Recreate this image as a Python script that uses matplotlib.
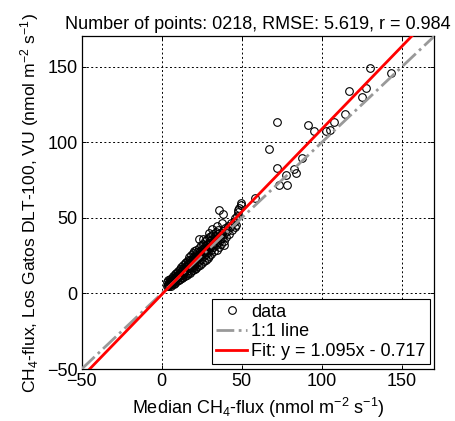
import matplotlib
matplotlib.use("Agg")
import matplotlib.pyplot as plt
import numpy as np

plt.rcParams['font.family'] = ['Liberation Sans', 'DejaVu Sans']
plt.rcParams['mathtext.default'] = 'regular'
plt.rcParams['font.size'] = 13

# main cluster of points (median flux, DLT-100 flux)
x_cluster = [3.1, 3.5, 4.0, 4.2, 4.6, 5.0, 5.3, 5.5, 5.8, 6.0,
             6.2, 6.5, 6.8, 7.0, 7.2, 7.5, 7.8, 8.0, 8.2, 8.5,
             8.8, 9.0, 9.2, 9.5, 9.8, 10.0, 10.2, 10.5, 10.8, 11.0,
             11.2, 11.5, 11.8, 12.0, 12.2, 12.5, 12.8, 13.0, 13.2, 13.5,
             13.8, 14.0, 14.2, 14.5, 14.8, 15.0, 15.2, 15.5, 15.8, 16.0,
             16.2, 16.5, 16.8, 17.0, 17.2, 17.5, 17.8, 18.0, 18.2, 18.5,
             18.8, 19.0, 19.2, 19.5, 19.8, 20.0, 20.2, 20.5, 20.8, 21.0,
             21.2, 21.5, 21.8, 22.0, 22.3, 22.6, 22.9, 23.2, 23.5, 23.8,
             24.1, 24.4, 24.7, 25.0, 25.3, 25.6, 25.9, 26.2, 26.5, 26.8,
             27.1, 27.4, 27.7, 28.0, 28.3, 28.6, 28.9, 29.2, 29.5, 29.8,
             30.1, 30.4, 30.7, 31.0, 31.4, 31.8, 32.2, 32.6, 33.0, 33.4,
             33.8, 34.2, 34.6, 35.0, 35.4, 35.8, 36.2, 36.6, 37.0, 37.4,
             37.8, 38.2, 38.6, 39.0, 39.5, 40.0, 40.6, 41.2, 41.8, 42.5,
             43.2, 44.0, 44.8, 45.6, 46.3, 47.0, 47.8, 48.5, 49.2,
             3.8, 4.4, 5.1, 5.9, 6.6, 7.3, 8.1, 8.9, 9.6, 10.4,
             11.1, 11.9, 12.6, 13.4, 14.1, 14.9, 15.6, 16.4, 17.1, 17.9,
             18.6, 19.4, 20.1, 20.9, 21.6, 22.4, 23.1, 23.9, 24.6, 25.4,
             26.1, 26.9, 27.6, 28.4, 29.1, 29.9, 30.6, 31.3, 32.1, 33.0,
             34.0, 35.0, 36.0, 12.8, 19.9, 23.5, 26.0, 29.4, 31.6, 34.7]
y_cluster = [5.2, 7.8, 6.1, 8.9, 5.0, 7.2, 9.5, 4.9, 6.8, 8.1,
             10.3, 5.9, 7.7, 9.0, 11.5, 6.4, 8.5, 10.2, 12.6, 7.1,
             9.4, 11.3, 13.8, 7.9, 10.1, 12.0, 14.9, 8.6, 11.2, 13.1,
             16.0, 9.4, 12.3, 14.2, 17.3, 10.1, 13.0, 15.4, 18.6, 10.8,
             14.1, 16.5, 19.8, 11.6, 15.2, 17.6, 21.1, 12.4, 16.3, 18.5,
             22.3, 13.2, 17.0, 19.6, 23.8, 13.8, 18.2, 20.7, 25.4, 14.6,
             19.1, 21.8, 26.9, 15.3, 20.3, 22.9, 28.1, 16.2, 21.4, 24.1,
             29.0, 17.0, 22.5, 25.3, 27.2, 18.1, 23.6, 26.4, 30.3, 19.0,
             24.8, 27.5, 31.7, 20.3, 26.0, 28.6, 33.0, 21.5, 27.1, 29.8,
             34.4, 22.4, 28.3, 31.0, 35.8, 23.6, 29.5, 32.2, 37.1, 25.0,
             30.7, 33.5, 38.0, 26.3, 31.9, 34.8, 39.4, 27.8, 33.1, 36.2,
             40.9, 29.0, 34.5, 37.4, 42.0, 30.6, 35.9, 38.8, 32.8, 40.2,
             36.6, 41.5, 34.7, 39.3, 43.2, 37.0, 41.0, 44.6, 39.2, 43.8,
             46.5, 41.7, 47.3, 49.8, 45.0, 51.5, 53.6, 56.2, 58.5,
             4.8, 7.3, 6.0, 9.2, 8.8, 7.0, 9.0, 10.8, 12.4, 10.9,
             12.7, 14.8, 12.0, 16.9, 13.9, 18.3, 15.0, 20.2, 16.8, 22.4,
             17.6, 23.9, 19.0, 25.6, 20.4, 24.6, 21.7, 28.2, 23.0, 29.7,
             24.5, 31.5, 26.0, 33.0, 27.4, 34.6, 28.9, 36.2, 30.4, 38.3,
             31.8, 39.6, 33.7, 10.6, 17.4, 35.9, 36.2, 40.0, 42.3, 44.7]

# scattered high-flux points
x_high = [130.2, 143.3, 116.6, 127.5, 125.0, 114.6, 107.7, 102.3, 104.8, 95.2,
          91.0, 72.1, 67.1, 87.5, 72.1, 82.3, 77.5, 84.0, 73.3, 78.1,
          58.3, 49.6, 47.5, 36.0, 38.1, 37.7, 46.0, 38.9]
y_high = [148.9, 146.0, 133.7, 135.9, 129.7, 118.7, 113.2, 107.5, 107.9, 107.5,
          111.4, 113.7, 95.6, 89.4, 82.8, 82.0, 78.0, 79.7, 71.8, 71.8,
          63.0, 59.9, 55.0, 55.0, 52.6, 46.3, 44.0, 31.9]

fit_slope = 1.095
fit_intercept = -0.717
n_points = 218
rmse = 5.619
r_value = 0.984

x_all = np.array(x_cluster + x_high)
y_all = np.array(y_cluster + y_high)

fig = plt.figure(figsize=(4.55, 4.21), dpi=100)
ax = fig.add_axes([0.1795, 0.1235, 0.7745, 0.79])

line_x = np.array([-50, 170])
ax.plot(x_all, y_all, 'o', mfc='none', mec='black', ms=5.5, mew=0.8, label='data', zorder=3)
ax.plot(line_x, line_x, '-.', color='#999999', lw=2, label='1:1 line', zorder=4)
ax.plot(line_x, fit_slope * line_x + fit_intercept, '-', color='red', lw=2,
        label='Fit: y = %.3fx - %.3f' % (fit_slope, -fit_intercept), zorder=5)

ax.set_xlim(-50, 170)
ax.set_ylim(-50, 170)
ax.set_xticks([-50, 0, 50, 100, 150])
ax.set_yticks([-50, 0, 50, 100, 150])
ax.grid(True, color='black', linestyle=(0, (2, 2.5)), lw=0.7)
ax.tick_params(direction='in', top=True, right=True, length=3, width=0.7, pad=3)
for s in ax.spines.values():
    s.set_linewidth(0.9)

ax.set_xlabel('Median CH$_4$-flux (nmol m$^{-2}$ s$^{-1}$)', labelpad=4)
ax.set_ylabel('CH$_4$-flux, Los Gatos DLT-100, VU (nmol m$^{-2}$ s$^{-1}$)',
              fontsize=12.6, labelpad=4)
ax.set_title('Number of points: %04d, RMSE: %.3f, r = %.3f' % (n_points, rmse, r_value),
             fontsize=13, pad=5)

leg = ax.legend(loc='lower right', fancybox=False, edgecolor='black', framealpha=1,
                borderaxespad=0.25, handlelength=1.7, handletextpad=0.2,
                labelspacing=0.15, borderpad=0.25)
leg.get_frame().set_linewidth(0.8)

fig.savefig('out.png', dpi=100)
